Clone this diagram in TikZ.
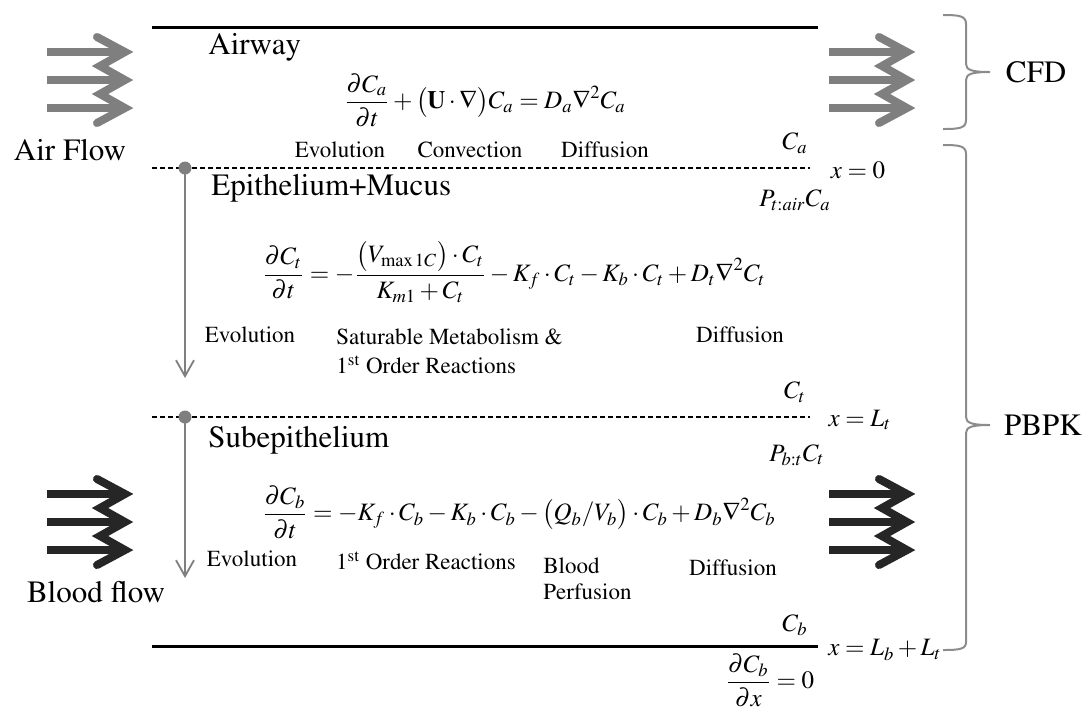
\documentclass[tikz,border=0pt]{standalone}
\usepackage[T1]{fontenc}
\usepackage{mathptmx}
\usetikzlibrary{arrows.meta}
\definecolor{flowgray}{HTML}{7F7F7F}
\definecolor{flowdark}{HTML}{262626}
\definecolor{bracegray}{HTML}{8C8C8C}
\tikzset{
  big/.style={inner sep=0pt, font=\fontsize{15.5}{18}\selectfont},
  lbl/.style={inner sep=0pt, font=\fontsize{11.5}{13}\selectfont},
  eq/.style={inner sep=0pt, font=\fontsize{12.5}{14}\selectfont},
  layer/.style={line width=1.5pt, black},
  iface/.style={line width=0.7pt, dash pattern=on 2.5pt off 1.5pt},
  dotnode/.style={circle, fill=flowgray, inner sep=0pt, minimum size=6.5pt},
  depth/.style={flowgray, line width=0.9pt, -{Straight Barb[length=8pt,width=9pt]}},
  brace/.style={bracegray, line width=1pt},
  flowarrows/.pic={
    \draw[line width=4pt, line cap=butt] (-78,-28) -- (-4,-28) (-78,0) -- (-4,0) (-78,28) -- (-4,28);
    \draw[line width=4pt, line join=miter, miter limit=4, line cap=round]
      (-28,-43) -- (0,-28) -- (-25,-14) -- (0,0) -- (-25,14) -- (0,28) -- (-28,43);
  }
}
\begin{document}
\begin{tikzpicture}[x=0.5pt,y=-0.5pt]
\useasboundingbox (0,0) rectangle (1087,709);

% layer boundaries
\coordinate (t1) at (152,27);  \coordinate (t2) at (818,27);
\coordinate (a1) at (152,168); \coordinate (a2) at (810,168);
\coordinate (b1) at (152,417); \coordinate (b2) at (810,417);
\coordinate (c1) at (152,646); \coordinate (c2) at (818,646);
\draw[layer] (t1) -- (t2);
\draw[iface] (a1) -- (a2);
\draw[iface] (b1) -- (b2);
\draw[layer] (c1) -- (c2);

% depth arrows
\node[dotnode] (d1) at (185,168) {};
\coordinate (e1) at (185,378);
\draw[depth] (d1.center) -- (e1);
\node[dotnode] (d2) at (185,417) {};
\coordinate (e2) at (185,578);
\draw[depth] (d2.center) -- (e2);

% flow arrows
\pic[color=flowgray] at (125,80) {flowarrows};
\pic[color=flowgray] at (907,80) {flowarrows};
\pic[color=flowdark] at (125,522) {flowarrows};
\pic[color=flowdark] at (907,522) {flowarrows};

% braces
\draw[brace] (943,15) .. controls (960,15) and (966,16) .. (966,24) -- (966,64)
  .. controls (966,70) and (972,72) .. (990,72)
  .. controls (972,72) and (966,74) .. (966,80) -- (966,120)
  .. controls (966,128) and (960,129) .. (943,129);
\draw[brace] (943,145) .. controls (960,145) and (966,146) .. (966,154) -- (966,417)
  .. controls (966,423) and (972,425) .. (990,425)
  .. controls (972,425) and (966,427) .. (966,433) -- (966,642)
  .. controls (966,649) and (960,650) .. (943,650);

% big labels
\node[big, anchor=west] (airway) at (208,47) {Airway};
\node[big] (airflow) at (70,150) {Air Flow};
\node[big] (cfd) at (1036,72) {CFD};
\node[big] (pbpk) at (1043,425) {PBPK};
\node[big, anchor=west] (epi) at (211,188) {Epithelium+Mucus};
\node[big, anchor=west] (sub) at (208,440) {Subepithelium};
\node[big] (blood) at (96,592) {Blood flow};

% equations
\node[eq] (eqa) at (485,100) {$\displaystyle \frac{\partial C_a}{\partial t}+\bigl(\mathbf{U}\cdot\nabla\bigr)C_a=D_a\nabla^2 C_a$};
\node[eq] (eqt) at (514,272) {$\displaystyle \frac{\partial C_t}{\partial t}=-\frac{\bigl(V_{\max 1C}\bigr)\cdot C_t}{K_{m1}+C_t}-K_f\cdot C_t-K_b\cdot C_t+D_t\nabla^2 C_t$};
\node[eq] (eqb) at (519,512) {$\displaystyle \frac{\partial C_b}{\partial t}=-K_f\cdot C_b-K_b\cdot C_b-\bigl(Q_b/V_b\bigr)\cdot C_b+D_b\nabla^2 C_b$};

% term labels
\node[lbl] (ev1) at (340,150) {Evolution};
\node[lbl] (conv) at (470,150) {Convection};
\node[lbl] (dif1) at (605,150) {Diffusion};
\node[lbl] (ev2) at (250,335) {Evolution};
\node[lbl, anchor=west] (sat) at (336,337) {Saturable Metabolism \&};
\node[lbl, anchor=west] (ord1) at (336,365) {1\textsuperscript{st} Order Reactions};
\node[lbl] (dif2) at (740,335) {Diffusion};
\node[lbl] (ev3) at (252,559) {Evolution};
\node[lbl] (ord2) at (426,561) {1\textsuperscript{st} Order Reactions};
\node[lbl, anchor=west] (bp) at (543,566) {Blood};
\node[lbl, anchor=west] (perf) at (543,592) {Perfusion};
\node[lbl] (dif3) at (733,568) {Diffusion};

% boundary labels
\node[eq] (ca) at (795,143) {$C_a$};
\node[eq] (x0) at (858,170) {$x=0$};
\node[eq] (pta) at (795,200) {$P_{t:air}C_a$};
\node[eq] (ct) at (795,392) {$C_t$};
\node[eq] (xlt) at (860,420) {$x=L_t$};
\node[eq] (pbt) at (797,455) {$P_{b:t}C_t$};
\node[eq] (cb) at (795,625) {$C_b$};
\node[eq] (xlb) at (885,650) {$x=L_b+L_t$};
\node[eq] (bc) at (770,680) {$\displaystyle\frac{\partial C_b}{\partial x}=0$};
\end{tikzpicture}
\end{document}
